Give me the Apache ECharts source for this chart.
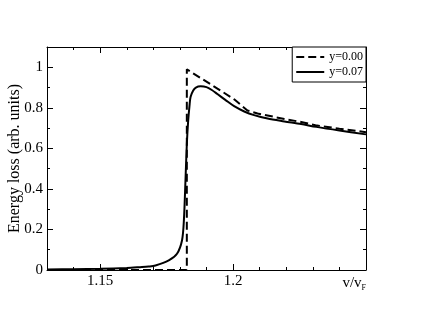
<!DOCTYPE html>
<html>
<head>
<meta charset="utf-8">
<script src="https://cdn.jsdelivr.net/npm/echarts@6/dist/echarts.min.js"></script>
<style>
	html, body{ margin:0; padding:0; background:#fff; }
	#main{ width:423px; height:327px; }
</style>
</head>
<body>
<div id="main"></div>
<script type="text/javascript">
// y=0.00 curve (sharp step)
var dashX = [1.13, 1.1826, 1.1826, 1.1941, 1.2004, 1.2054, 1.2092, 1.2193, 1.2256, 1.231, 1.24, 1.25];
var dashY = [0, 0, 0.99, 0.895, 0.842, 0.787, 0.772, 0.745, 0.73, 0.714, 0.697, 0.68];
// y=0.07 curve (broadened)
var solidX = [1.13, 1.14, 1.15, 1.16, 1.165, 1.1682, 1.1708, 1.1758, 1.1789, 1.1808, 1.1815, 1.1821, 1.1826, 1.1831, 1.1836, 1.184, 1.185, 1.186, 1.1878, 1.19, 1.192, 1.1941, 1.1972, 1.2004, 1.2042, 1.2079, 1.213, 1.2193, 1.2256, 1.2313, 1.24, 1.25];
var solidY = [0.002, 0.004, 0.006, 0.01, 0.014, 0.017, 0.022, 0.047, 0.08, 0.147, 0.246, 0.445, 0.62, 0.735, 0.81, 0.853, 0.885, 0.9, 0.906, 0.902, 0.888, 0.868, 0.838, 0.808, 0.782, 0.764, 0.747, 0.733, 0.72, 0.706, 0.688, 0.669];
var xLabels = [1.15, 1.2, 1.25];
var xMajor = [1.15, 1.2];
var yLabels = [0, 0.2, 0.4, 0.6, 0.8, 1];
var seriesNames = ['y=0.00', 'y=0.07'];

function pairs(xs, ys){
	var out = [];
	for(var i = 0; i < xs.length; i++){
		out.push([xs[i], ys[i]]);
	}
	return out;
}

var font = 'Liberation Serif';
var black = '#000';

function xAxisOf(pos, major, showLabel){
	return {
		type: 'value', position: pos, min: 1.13, max: 1.25, interval: 0.01,
		axisLine: { show: !major, onZero: false, lineStyle: { color: black, width: 1 } },
		splitLine: { show: false },
		axisTick: major
			? { show: true, inside: true, length: 6, customValues: xMajor, lineStyle: { color: black } }
			: { show: true, inside: true, length: 3, lineStyle: { color: black } },
		axisLabel: showLabel ? {
			show: true, customValues: xLabels, margin: 4, alignMaxLabel: 'right',
			color: black, fontFamily: font, fontSize: 15,
			formatter: function(v){
				if(Math.abs(v - 1.25) < 1e-6) return '{a|v/v}{s|F}';
				return String(Math.round(v * 100) / 100);
			},
			rich: {
				a: { fontFamily: font, fontSize: 15, color: black },
				s: { fontFamily: font, fontSize: 8, color: black, padding: [10, 0, 0, 0] }
			}
		} : { show: false }
	};
}

function yAxisOf(pos, major, showLabel){
	return {
		type: 'value', position: pos, min: 0, max: 1.1, interval: 0.1,
		axisLine: { show: !major, onZero: false, lineStyle: { color: black, width: 1 } },
		splitLine: { show: false },
		axisTick: major
			? { show: true, inside: true, length: 6, customValues: yLabels, lineStyle: { color: black } }
			: { show: true, inside: true, length: 3, lineStyle: { color: black } },
		name: showLabel ? 'Energy loss (arb. units)' : '',
		nameLocation: 'middle', nameGap: 24, nameMoveOverlap: false,
		nameTextStyle: { fontFamily: font, fontSize: 16, color: black },
		axisLabel: showLabel ? {
			show: true, customValues: yLabels, margin: 4,
			color: black, fontFamily: font, fontSize: 15,
			formatter: function(v){ return String(Math.round(v * 10) / 10); }
		} : { show: false }
	};
}

var myChart = echarts.init(document.getElementById('main'), null, { renderer: 'canvas' });
var option = {
	animation: false,
	backgroundColor: '#fff',
	grid: { left: 47, right: 57, top: 47, bottom: 57, containLabel: false, outerBoundsMode: 'none' },
	legend: {
		orient: 'vertical', right: 57, top: 47,
		data: seriesNames,
		itemWidth: 28, itemHeight: 10, itemGap: 3,
		padding: [4, 3, 4, 3],
		borderColor: black, borderWidth: 1, backgroundColor: '#fff',
		itemStyle: { opacity: 0 },
		textStyle: { fontFamily: font, fontSize: 12, color: black }
	},
	xAxis: [
		xAxisOf('bottom', false, true),
		xAxisOf('bottom', true, false),
		xAxisOf('top', false, false),
		xAxisOf('top', true, false)
	],
	yAxis: [
		yAxisOf('left', false, true),
		yAxisOf('left', true, false),
		yAxisOf('right', false, false),
		yAxisOf('right', true, false)
	],
	series: [
		{
			name: seriesNames[0], type: 'line', symbol: 'none', smooth: false,
			data: pairs(dashX, dashY),
			lineStyle: { color: black, width: 2, type: [8, 4] },
			itemStyle: { color: black }
		},
		{
			name: seriesNames[1], type: 'line', symbol: 'none', smooth: 0.3,
			data: pairs(solidX, solidY),
			lineStyle: { color: black, width: 2 },
			itemStyle: { color: black }
		}
	]
};
myChart.setOption(option);
</script>
</body>
</html>
